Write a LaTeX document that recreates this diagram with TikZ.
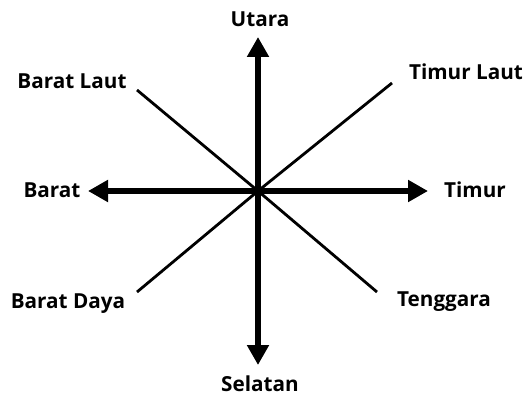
\documentclass[tikz,border=0pt]{standalone}
\usepackage{fontspec}
\setmainfont{Open Sans}
\usetikzlibrary{arrows.meta}
\tikzset{
  dirlabel/.style={font=\bfseries\fontsize{20.7}{24}\selectfont, text=black, inner sep=0pt},
  mainaxis/.style={line width=6pt, -{Triangle[length=20pt,width=21pt]}},
  diagline/.style={line width=2.8pt}
}
\begin{document}
\begin{tikzpicture}[x=1pt,y=-1pt]
  \useasboundingbox (0,0) rectangle (525,396);
  % centre and free ends
  \coordinate (c) at (258,191);
  \coordinate (n) at (258,37);
  \coordinate (s) at (258,365);
  \coordinate (w) at (88,191);
  \coordinate (e) at (428,191);
  \coordinate (nw) at (137,90);
  \coordinate (ne) at (392,83);
  \coordinate (sw) at (137,292);
  \coordinate (se) at (377,292);
  % diagonals
  \foreach \d in {nw,ne,sw,se} \draw[diagline] (c) -- (\d);
  % main axes
  \foreach \d in {n,s,w,e} \draw[mainaxis] (c) -- (\d);
  % labels
  \node[dirlabel] (utara) at (260,19) {Utara};
  \node[dirlabel] (selatan) at (260,384) {Selatan};
  \node[dirlabel] (barat) at (52,190) {Barat};
  \node[dirlabel] (timur) at (475,190) {Timur};
  \node[dirlabel] (baratlaut) at (72,81) {Barat Laut};
  \node[dirlabel] (timurlaut) at (466,72) {Timur Laut};
  \node[dirlabel] (baratdaya) at (68,304) {Barat Daya};
  \node[dirlabel] (tenggara) at (444,302) {Tenggara};
\end{tikzpicture}
\end{document}
